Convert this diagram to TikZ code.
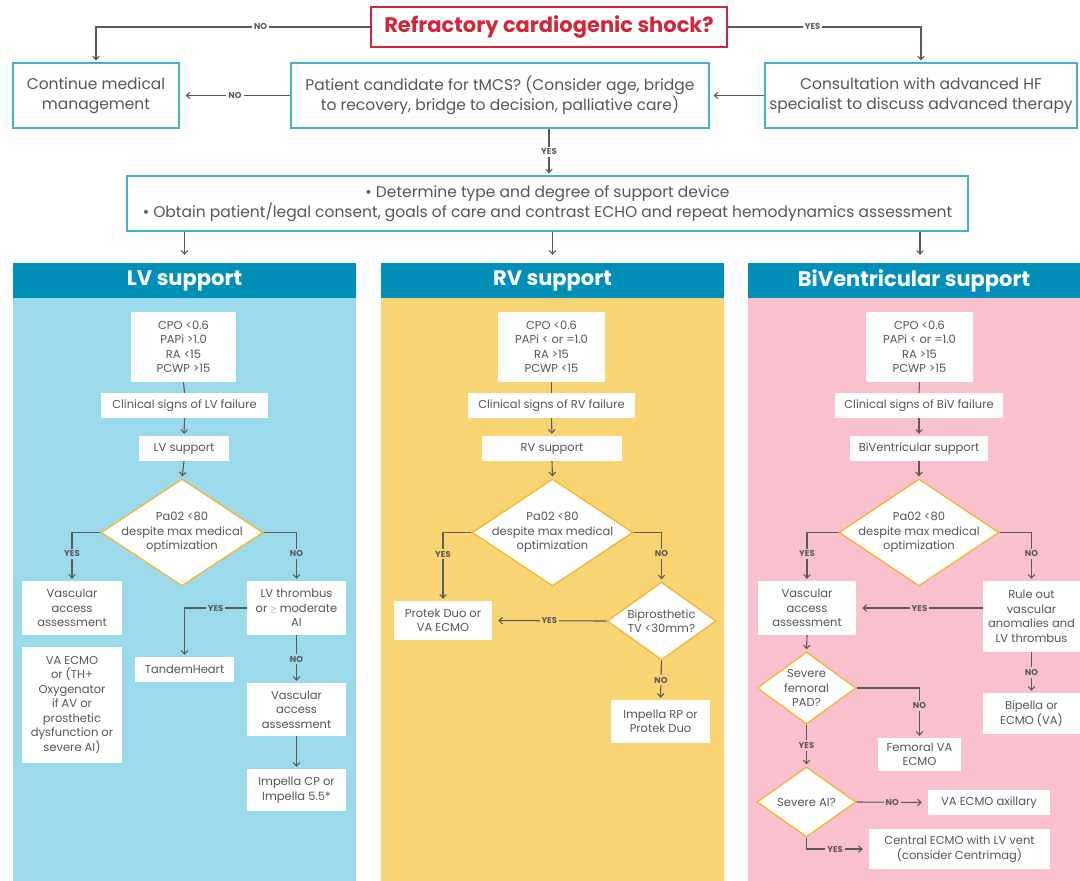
\documentclass[tikz,border=0pt]{standalone}
\usepackage{fontspec}
\setmainfont{Poppins}
\usetikzlibrary{arrows.meta,shapes.geometric}
\definecolor{txt}{HTML}{55565A}
\definecolor{lnc}{HTML}{5A5A5A}
\definecolor{titlered}{HTML}{D3263B}
\definecolor{cyanb}{HTML}{45B0CD}
\definecolor{headc}{HTML}{008FB8}
\definecolor{lvbg}{HTML}{9BDAEA}
\definecolor{rvbg}{HTML}{F8D572}
\definecolor{bvbg}{HTML}{F9C1CE}
\definecolor{dborder}{HTML}{F4B42F}
\begin{document}
\begin{tikzpicture}[x=1pt,y=-1pt,
  topbox/.style={draw=cyanb, line width=1.2pt, fill=white, text=txt, align=center, inner sep=0pt, font=\fontsize{15.5}{20}\selectfont},
  wbox/.style={fill=white, text=txt, align=center, inner sep=0pt, font=\fontsize{11.5}{14.5}\selectfont},
  head/.style={fill=headc, text=white, inner sep=0pt, font=\fontsize{21}{24}\selectfont\bfseries, minimum height=35pt},
  dia/.style={diamond, draw=dborder, line width=1.3pt, fill=white, inner sep=0pt},
  dtext/.style={text=txt, align=center, font=\fontsize{11.5}{14.5}\selectfont, inner sep=0pt},
  conn/.style={draw=lnc, line width=1.1pt},
  arr/.style={conn, -{Straight Barb[length=3.5pt,width=6.5pt]}, shorten >=2pt},
  lbl/.style={fill=#1, text=lnc, inner sep=2pt, font=\fontsize{8.5}{10}\selectfont\bfseries},
  lbl/.default=white]
\useasboundingbox[fill=white] (0,0) rectangle (1080,881);

% ---------- top ----------
\node[draw=titlered, line width=1.2pt, fill=white, text=titlered, minimum width=356pt, minimum height=40pt, inner sep=0pt, font=\fontsize{21}{24}\selectfont\bfseries] (title) at (549,27) {Refractory cardiogenic shock?};
\node[topbox, minimum width=166pt, minimum height=65pt] (cont) at (96,95.5) {Continue medical\\management};
\node[topbox, minimum width=418pt, minimum height=65pt] (cand) at (500,95.5) {Patient candidate for tMCS? (Consider age, bridge\\to recovery, bridge to decision, palliative care)};
\node[topbox, minimum width=312pt, minimum height=65pt] (cons) at (921,95.5) {Consultation with advanced HF\\specialist to discuss advanced therapy};
\node[topbox, minimum width=841pt, minimum height=55pt] (det) at (547.5,203.5) {\textbullet\ Determine type and degree of support device\\\textbullet\ Obtain patient/legal consent, goals of care and contrast ECHO and repeat hemodynamics assessment};

\draw[arr] (title.west) -| node[lbl, pos=0.2] {NO} (cont.north);
\draw[arr] (title.east) -| node[lbl, pos=0.22] {YES} (cons.north);
\draw[arr, shorten >=4pt] (cons.west) -- (cand.east);
\draw[arr, shorten >=6pt] (cand.west) -- node[lbl] {NO} (cont.east);
\draw[arr] ([xshift=1.5pt]det.north |- cand.south) -- node[lbl] {YES} ([xshift=1.5pt]det.north);

% ---------- panels ----------
\fill[lvbg] (13,298) rectangle (356,881);
\fill[rvbg] (381,298) rectangle (724,881);
\fill[bvbg] (748,298) rectangle (1080,881);
\node[head, minimum width=343pt] (lvh) at (184.5,280.5) {LV support};
\node[head, minimum width=343pt] (rvh) at (552.5,280.5) {RV support};
\node[head, minimum width=332pt] (bvh) at (914,280.5) {BiVentricular support};

\draw[arr, shorten >=8pt] (det.south -| lvh.north) -- (lvh.north);
\draw[arr, shorten >=8pt] (det.south -| rvh.north) -- (rvh.north);
\draw[arr, shorten >=8pt] ([xshift=6pt]det.south -| bvh.north) -- ([xshift=6pt]bvh.north);

% ---------- LV ----------
\node[wbox, minimum width=105pt, minimum height=70pt] (lvcpo) at (183.5,347) {CPO <0.6\\PAPi >1.0\\RA <15\\PCWP >15};
\node[wbox, minimum width=167pt, minimum height=25pt] (lvcs) at (184.5,405.5) {Clinical signs of LV failure};
\node[wbox, minimum width=90pt, minimum height=25pt] (lvsup) at (184,448.5) {LV support};
\node[dia, minimum width=162pt, minimum height=107pt, label={[dtext]center:{Pa02 <80\\despite max medical\\optimization}}] (lvd) at (182,532.5) {};
\node[wbox, minimum width=100pt, minimum height=54pt] (lvva) at (72,608) {Vascular\\access\\assessment};
\node[wbox, minimum width=100pt, minimum height=116pt] (lvecmo) at (72,705) {VA ECMO\\or (TH+\\Oxygenator\\if AV or\\prosthetic\\dysfunction or\\severe AI)};
\node[wbox, minimum width=99pt, minimum height=54pt] (lvthr) at (296.5,608) {LV thrombus\\or \raisebox{0.5pt}{\scriptsize$\geq$} moderate\\AI};
\node[wbox, minimum width=99pt, minimum height=25pt] (tandem) at (184.5,669.5) {TandemHeart};
\node[wbox, minimum width=99pt, minimum height=53pt] (lvva2) at (296.5,709.5) {Vascular\\access\\assessment};
\node[wbox, minimum width=99pt, minimum height=42pt] (imp) at (296.5,790) {Impella CP or\\Impella 5.5*};

\draw[conn] (lvcpo.south) -- (lvcs.north);
\draw[arr] (lvcs.south) -- (lvsup.north);
\draw[arr] (lvsup.south) -- (lvd.north);
\draw[arr] (lvd.west) -| node[lbl=lvbg, pos=0.72] {YES} (lvva.north);
\draw[arr] (lvd.east) -| node[lbl=lvbg, pos=0.72] {NO} (lvthr.north);
\draw[arr] (lvthr.west) -| node[lbl=lvbg, pos=0.25] {YES} (tandem.north);
\draw[arr] (lvthr.south) -- node[lbl=lvbg] {NO} (lvva2.north);
\draw[arr] (lvva2.south) -- (imp.north);

% ---------- RV ----------
\node[wbox, minimum width=107pt, minimum height=70pt] (rvcpo) at (551.5,347) {CPO <0.6\\PAPi < or =1.0\\RA >15\\PCWP <15};
\node[wbox, minimum width=167pt, minimum height=25pt] (rvcs) at (551.5,405.5) {Clinical signs of RV failure};
\node[wbox, minimum width=140pt, minimum height=25pt] (rvsup) at (552,448.5) {RV support};
\node[dia, minimum width=161pt, minimum height=107pt, label={[dtext]center:{Pa02 <80\\despite max medical\\optimization}}] (rvd) at (552.5,532.5) {};
\node[wbox, minimum width=98pt, minimum height=39pt] (protek) at (443,620.5) {Protek Duo or\\VA ECMO};
\node[dia, minimum width=109pt, minimum height=78pt, label={[dtext]center:{Biprosthetic\\TV <30mm?}}] (bip) at (661.5,621) {};
\node[wbox, minimum width=99pt, minimum height=43pt] (imprp) at (660.5,721.5) {Impella RP or\\Protek Duo};

\draw[conn] (rvcpo.south) -- (rvcs.north);
\draw[arr] (rvcs.south) -- (rvsup.north);
\draw[arr] (rvsup.south) -- (rvd.north);
\draw[arr] (rvd.west) -| node[lbl=rvbg, pos=0.66] {YES} (protek.north);
\draw[arr] (rvd.east) -| node[lbl=rvbg, pos=0.72] {NO} (bip.north);
\draw[arr, shorten >=6pt] (bip.west) -- node[lbl=rvbg] {YES} (protek.east);
\draw[arr] (bip.south) -- node[lbl=rvbg] {NO} (imprp.north);

% ---------- BiV ----------
\node[wbox, minimum width=107pt, minimum height=70pt] (bvcpo) at (919.5,347) {CPO <0.6\\PAPi < or =1.0\\RA >15\\PCWP >15};
\node[wbox, minimum width=168pt, minimum height=25pt] (bvcs) at (919,405.5) {Clinical signs of BiV failure};
\node[wbox, minimum width=138pt, minimum height=25pt] (bvsup) at (919,448.5) {BiVentricular support};
\node[dia, minimum width=160pt, minimum height=107pt, label={[dtext]center:{Pa02 <80\\despite max medical\\optimization}}] (bvd) at (919,532.5) {};
\node[wbox, minimum width=98pt, minimum height=54pt] (bvva) at (807,608) {Vascular\\access\\assessment};
\node[wbox, minimum width=97pt, minimum height=71pt] (rule) at (1031.5,616.5) {Rule out\\vascular\\anomalies and\\LV thrombus};
\node[wbox, minimum width=97pt, minimum height=41pt] (bip2) at (1031.5,713.5) {Bipella or\\ECMO (VA)};
\node[dia, minimum width=99pt, minimum height=72pt, label={[dtext]center:{Severe\\femoral\\PAD?}}] (fem) at (806.5,688) {};
\node[wbox, minimum width=83pt, minimum height=33pt] (femva) at (919.5,754.5) {Femoral VA\\ECMO};
\node[dia, minimum width=99pt, minimum height=70pt, label={[dtext]center:{Severe AI?}}] (sai) at (806.5,802) {};
\node[wbox, minimum width=122pt, minimum height=25pt] (axil) at (989,802.5) {VA ECMO axillary};
\node[wbox, minimum width=181pt, minimum height=40pt] (central) at (959.5,849) {Central ECMO with LV vent\\(consider Centrimag)};

\draw[conn] (bvcpo.south) -- (bvcs.north);
\draw[arr] (bvcs.south) -- (bvsup.north);
\draw[arr] (bvsup.south) -- (bvd.north);
\draw[arr] (bvd.west) -| node[lbl=bvbg, pos=0.72] {YES} (bvva.north);
\draw[arr] (bvd.east) -| node[lbl=bvbg, pos=0.72] {NO} (rule.north);
\draw[arr, shorten >=6pt] (rule.west |- bvva.east) -- node[lbl=bvbg] {YES} (bvva.east);
\draw[arr] (rule.south) -- node[lbl=bvbg] {NO} (bip2.north);
\draw[arr] (bvva.south) -- (fem.north);
\draw[arr] (fem.east) -| node[lbl=bvbg, pos=0.68] {NO} (femva.north);
\draw[arr] (fem.south) -- node[lbl=bvbg] {YES} (sai.north);
\draw[arr, shorten >=6pt] (sai.east) -- node[lbl=bvbg] {NO} (axil.west);
\draw[arr, shorten >=6pt] (sai.south) |- node[lbl=bvbg, pos=0.73] {YES} (central.west);
\end{tikzpicture}
\end{document}
